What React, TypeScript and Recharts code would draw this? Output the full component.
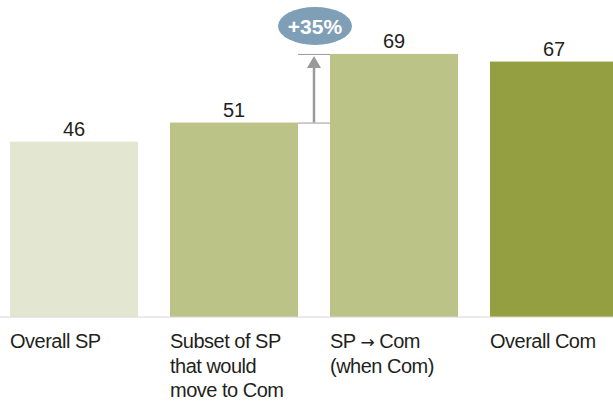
import { BarChart, Bar, XAxis, YAxis, Cell, LabelList } from 'recharts';

const categories = ['Overall SP', 'Subset of SP|that would|move to Com', 'SP \u2192 Com|(when Com)', 'Overall Com'];
const values = [46, 51, 69, 67];
const barColors = ['#e3e6d0', '#bcc386', '#bcc386', '#949f41'];
const upliftLabel = '+35%';

const FONT = '"Liberation Sans", Arial, Helvetica, sans-serif';
const GAP = 32;

const data = categories.map((name, i) => ({ name, value: values[i], color: barColors[i] }));

function renderLine(line: string) {
  // the arrow glyph is tiny in Liberation Sans, borrow it from DejaVu
  const parts = line.split('\u2192');
  if (parts.length === 1) return line;
  return (
    <>
      {parts[0]}
      <tspan fontFamily="DejaVu Sans" fontSize={17}>{'\u2192'}</tspan>
      {parts[1]}
    </>
  );
}

function CategoryTick(props: any) {
  const { x, y, payload } = props;
  const lines = String(payload.value).split('|');
  return (
    <text x={x - 64} y={y + 23} fill="#231f20" fontSize={20} fontFamily={FONT} letterSpacing={-0.5}>
      {lines.map((line, i) => (
        <tspan key={i} x={x - 64} dy={i === 0 ? 0 : 24.5}>
          {renderLine(line)}
        </tspan>
      ))}
    </text>
  );
}

function BarShape(props: any) {
  const { x, y, width, height, fill, index } = props;
  const rect = <rect x={x} y={y} width={width} height={height} fill={fill} />;
  if (index !== 2) return rect;
  // arrow from the top of bar 2 up to the top of bar 3, in the gap between them
  const base = y + height;
  const yLow = base - (height * values[1]) / values[2];
  const ax = x - GAP / 2;
  return (
    <g>
      {rect}
      <line x1={ax - 16} x2={ax + 16} y1={y + 0.5} y2={y + 0.5} stroke="#9a9a9a" strokeWidth={1} />
      <line x1={ax - 16} x2={ax + 16} y1={yLow + 0.5} y2={yLow + 0.5} stroke="#9a9a9a" strokeWidth={1} />
      <line x1={ax} x2={ax} y1={yLow} y2={y + 10} stroke="#9a9a9a" strokeWidth={2.5} />
      <polygon points={`${ax},${y + 2} ${ax - 7},${y + 14} ${ax + 7},${y + 14}`} fill="#9a9a9a" />
      <ellipse cx={ax + 1} cy={y - 28} rx={37} ry={19} fill="#7f9fb6" />
      <text
        x={ax + 1}
        y={y - 20}
        textAnchor="middle"
        fill="#ffffff"
        fontSize={21}
        fontWeight="bold"
        fontFamily={FONT}
      >
        {upliftLabel}
      </text>
    </g>
  );
}

export default function App() {
  return (
    <div style={{ position: 'absolute', left: 0, top: 0, width: 613, height: 402, overflow: 'hidden', background: '#fff' }}>
      <div style={{ position: 'absolute', left: -6, top: 0 }}>
        <BarChart
          width={640}
          height={402}
          data={data}
          margin={{ top: 12, right: 0, left: 0, bottom: 0 }}
          barCategoryGap={GAP / 2}
        >
          <XAxis
            dataKey="name"
            height={85}
            tickLine={false}
            axisLine={{ stroke: '#d6d6d6' }}
            interval={0}
            tick={<CategoryTick />}
          />
          <YAxis hide domain={[0, 80]} />
          <Bar dataKey="value" isAnimationActive={false} shape={<BarShape />}>
            {data.map((d, i) => (
              <Cell key={i} fill={d.color} />
            ))}
            <LabelList dataKey="value" position="top" offset={6} fill="#231f20" fontSize={20} fontFamily={FONT} />
          </Bar>
        </BarChart>
      </div>
    </div>
  );
}
